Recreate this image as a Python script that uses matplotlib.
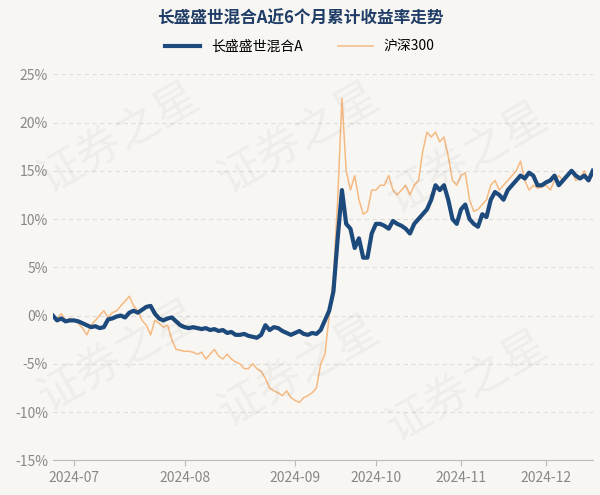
import matplotlib
matplotlib.use("Agg")
import matplotlib.pyplot as plt

plt.rcParams['font.family'] = ['Noto Sans CJK SC', 'DejaVu Sans']

fund_jun = [0, -0.5, -0.3, -0.6, -0.5]
fund_jul = [-0.5, -0.6, -0.8, -1.0, -1.2, -1.1, -1.3, -1.2, -0.4, -0.3, -0.1, 0.0, -0.2, 0.3, 0.5, 0.3, 0.6, 0.9, 1.0, 0.2, -0.3, -0.5, -0.3]
fund_aug = [-0.2, -0.6, -1.0, -1.2, -1.3, -1.2, -1.3, -1.4, -1.3, -1.5, -1.4, -1.6, -1.5, -1.8, -1.7, -2.0, -2.0, -1.9, -2.1, -2.2, -2.3, -2.0]
fund_sep = [-1.0, -1.5, -1.2, -1.3, -1.6, -1.8, -2.0, -1.8, -1.6, -1.9, -2.0, -1.8, -1.9, -1.5, -0.5, 0.5, 2.5, 8.0, 13.0]
fund_oct = [9.5, 9.0, 7.0, 8.0, 6.0, 6.0, 8.5, 9.5, 9.5, 9.3, 9.0, 9.8, 9.5, 9.3, 9.0, 8.5, 9.5, 10.0]
fund_nov = [10.5, 11.0, 12.0, 13.5, 13.0, 13.5, 12.0, 10.0, 9.5, 11.0, 11.5, 10.0, 9.5, 9.2, 10.5, 10.2, 12.0, 12.8, 12.5, 12.0, 13.0]
fund_dec = [13.5, 14.0, 14.5, 14.2, 14.8, 14.5, 13.5, 13.5, 13.8, 14.0, 14.5, 13.5, 14.0, 14.5, 15.0, 14.5, 14.2, 14.5, 14.0, 15.0]

hs_jun = [0, -0.3, 0.2, -0.5, -0.3]
hs_jul = [-0.5, -0.8, -1.3, -2.0, -1.0, -0.5, 0.0, 0.5, -0.2, 0.3, 0.5, 1.0, 1.5, 2.0, 1.0, 0.5, -0.5, -1.0, -2.0, -0.5, -0.8, -1.2, -1.0]
hs_aug = [-2.5, -3.5, -3.6, -3.7, -3.7, -3.8, -4.0, -3.8, -4.5, -4.0, -3.5, -4.2, -4.5, -4.0, -4.5, -4.8, -5.0, -5.5, -5.5, -5.0, -5.5, -5.8]
hs_sep = [-6.5, -7.5, -7.8, -8.0, -8.3, -7.8, -8.5, -8.8, -9.0, -8.5, -8.3, -8.0, -7.5, -5.0, -4.0, 0.0, 4.0, 12.0, 22.5]
hs_oct = [15.0, 13.0, 14.5, 12.0, 10.5, 10.8, 13.0, 13.0, 13.5, 13.5, 14.5, 13.0, 12.5, 13.0, 13.5, 12.5, 13.5, 14.0]
hs_nov = [17.0, 19.0, 18.5, 19.0, 18.0, 18.5, 16.5, 14.0, 13.5, 14.5, 14.8, 12.0, 10.8, 11.0, 11.5, 12.0, 13.5, 14.0, 13.0, 13.5, 14.0]
hs_dec = [14.5, 15.0, 16.0, 14.0, 13.0, 13.5, 13.2, 13.3, 13.5, 13.0, 14.0, 14.5, 14.0, 14.5, 15.0, 14.0, 14.2, 15.0, 14.0, 14.5]

fund = fund_jun + fund_jul + fund_aug + fund_sep + fund_oct + fund_nov + fund_dec
hs = hs_jun + hs_jul + hs_aug + hs_sep + hs_oct + hs_nov + hs_dec
n = min(len(fund), len(hs))
fund, hs = fund[:n], hs[:n]
x = list(range(n))

tick_labels = ['2024-07', '2024-08', '2024-09', '2024-10', '2024-11', '2024-12']
tick_index = [5, 31, 57, 76, 96, 116]

bg = '#f8f6f2'
fig = plt.figure(figsize=(6, 4.95), dpi=100, facecolor=bg)
ax = fig.add_axes([0.088, 0.07, 0.9, 0.78], facecolor=bg)
ax.plot(x, hs, color='#f5b982', lw=1.1, label='沪深300', zorder=2)
ax.plot(x, fund, color='#1d4a7c', lw=3, label='长盛盛世混合A', zorder=3)
ax.set_xlim(0, n - 1)
ax.set_ylim(-15, 25)
ax.set_yticks(range(-15, 26, 5))
ax.set_yticklabels([f'{v}%' for v in range(-15, 26, 5)], color='#888888', fontsize=10)
ax.set_xticks(tick_index)
ax.set_xticklabels(tick_labels, color='#888888', fontsize=10)
ax.grid(axis='y', ls=(0, (4, 3)), color='#dddddd', lw=0.8)
for s in ['top', 'right', 'left']:
    ax.spines[s].set_visible(False)
ax.spines['bottom'].set_color('#bbbbbb')
ax.tick_params(length=0)
ax.tick_params(axis='x', length=4, color='#bbbbbb')
fig.text(0.5, 0.962, '长盛盛世混合A近6个月累计收益率走势', ha='center', va='center',
         fontsize=12, fontweight='bold', color='#1f3d66')
handles, labels = ax.get_legend_handles_labels()
fig.legend(handles[::-1], labels[::-1], loc='center', bbox_to_anchor=(0.5, 0.905), ncol=2,
           frameon=False, fontsize=10, handlelength=2.5, columnspacing=2.5)
for (tx, ty) in [(0.2, 0.72), (0.5, 0.72), (0.78, 0.68), (0.2, 0.28), (0.5, 0.25), (0.78, 0.22)]:
    fig.text(tx, ty, '证券之星', fontsize=32, color='#000000', alpha=0.04, rotation=30,
             ha='center', va='center')
fig.savefig('out.png', dpi=100, facecolor=bg)
